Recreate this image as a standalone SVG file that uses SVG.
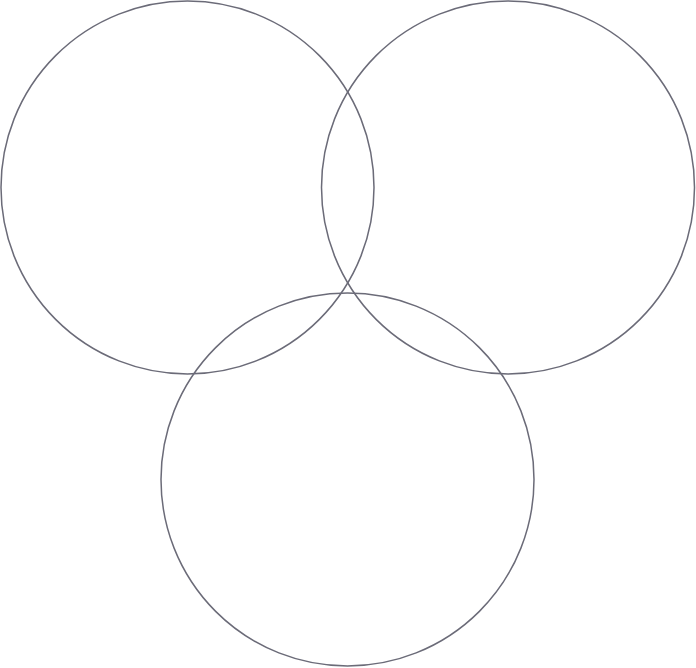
<svg xmlns="http://www.w3.org/2000/svg" width="696" height="668" viewBox="0 0 696 668">
<style>.c{fill:none;stroke:#6b6b78;stroke-width:1.5}</style>
<rect width="696" height="668" fill="#fff"/>
<g id="circle-left"><circle class="c" cx="187.5" cy="187.5" r="186.5"/></g>
<g id="circle-right"><circle class="c" cx="508" cy="187.5" r="186.5"/></g>
<g id="circle-bottom"><circle class="c" cx="347.5" cy="479.5" r="186.5"/></g>
</svg>
